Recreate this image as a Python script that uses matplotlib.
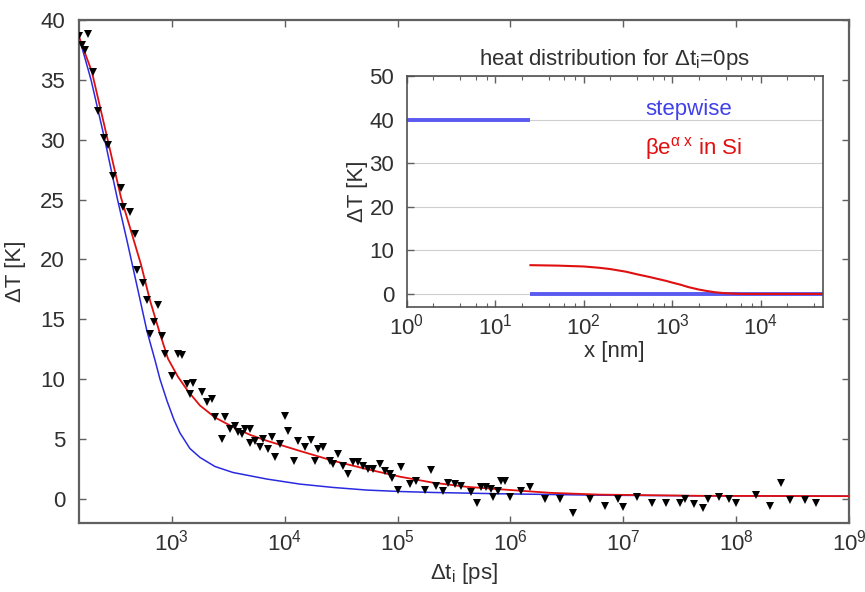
import matplotlib
matplotlib.use('Agg')
import matplotlib.pyplot as plt
from matplotlib.ticker import FixedLocator, NullLocator, LogLocator, NullFormatter

plt.rcParams['font.family'] = ['Liberation Sans', 'DejaVu Sans']
plt.rcParams['mathtext.fontset'] = 'custom'
plt.rcParams['mathtext.rm'] = 'Liberation Sans'
plt.rcParams['mathtext.it'] = 'Liberation Sans:italic'
plt.rcParams['mathtext.bf'] = 'Liberation Sans:bold'

# ---------------- main data ----------------
meas_t = [150, 182, 158, 169, 201, 222, 251, 273, 302, 351,
          371, 425, 470, 486, 549, 597, 757, 693, 638, 820, 866, 1137, 1218, 994,
          1349, 1545, 1443, 1833, 2248,
          2027, 2404, 2944, 2754, 3265, 3614, 3866, 4142, 4433, 4910, 4910, 5433,
          6012, 6434, 7129, 7638, 8166, 9054, 10020, 10710, 12110, 13140,
          15070, 17020, 18490, 19770, 21880, 25080, 26850, 29730, 32900, 36410,
          40330, 44660, 49430, 54790, 60660, 69510, 77090, 85310, 88310,
          1.082e5, 1.01e5, 1.282e5, 1.469e5, 1.741e5, 1.995e5, 2.209e5,
          2.53e5, 2.8e5, 3.21e5, 3.68e5, 4.51e5, 5.0e5, 5.53e5, 6.12e5, 6.78e5,
          7.0e5, 7.76e5, 8.3e5, 8.9e5, 9.86e5, 1.25e6, 1.48e6, 2.01e6, 2.73e6,
          3.58e6, 5.04e6,
          6.84e6, 8.97e6, 9.93e6, 1.31e7, 1.81e7, 2.41e7, 3.16e7, 3.5e7, 4.2e7,
          5.09e7, 5.63e7, 7.04e7, 8.64e7, 1.0e8, 1.51e8, 2.01e8, 2.51e8, 3.02e8,
          4.04e8, 5.06e8]
meas_dT = [38.66, 38.8, 37.9, 37.5, 35.7, 32.4, 30.15, 29.6, 27.0, 26.0,
           24.4, 24.0, 22.15, 19.1, 18.0, 16.6, 16.2, 14.75, 13.8, 13.6, 12.1, 12.1, 12.05, 10.3,
           9.6, 9.65, 8.75, 8.9, 8.3,
           8.06, 6.8, 6.8, 5.0, 5.83, 6.1, 5.55, 5.41, 5.83, 5.83, 4.7, 4.85,
           4.3, 5.0, 4.16, 5.13, 3.46, 4.58, 6.95, 5.63, 3.18, 4.85,
           4.3, 4.9, 3.18, 4.16, 4.3, 3.18, 2.9, 3.74, 2.76, 2.07,
           3.04, 3.04, 2.76, 2.48, 2.48, 2.9, 2.34, 2.07, 1.78,
           2.62, 0.73, 1.23, 1.45, 0.73, 2.4, 1.09,
           0.67, 1.36, 1.23, 1.09, 0.53, -0.31, 0.95, 1.0, 0.81,
           0.11, 0.67, 1.5, 1.5, 0.11, 0.67, 0.95, -0.03, -0.03,
           -1.15, 0.0,
           -0.59, 0.0, -0.67, 0.17, -0.31, -0.31, -0.39, 0.0, -0.45,
           -0.78, 0.0, 0.11, 0.0, -0.39, 0.33, -0.59, 1.28, -0.11,
           -0.11, -0.39]

fit_t = [150, 195, 271, 353, 433, 531, 638, 783, 923, 1130, 1386, 1770, 2404,
         3470, 4910, 6940, 13600, 26700, 53300, 1.045e5, 2.05e5, 4.1e5, 8.0e5,
         2.23e6, 6.2e6, 4.75e7, 1e9]
fit_dT = [38.6, 35.7, 29.9, 25.2, 22.4, 19.6, 16.6, 13.8, 11.7, 10.2, 9.0, 7.8, 6.8,
          6.0, 5.35, 4.85, 4.0, 3.18, 2.48, 1.85, 1.35, 1.0, 0.8,
          0.5, 0.35, 0.25, 0.22]

step_t = [150, 192, 250, 326, 399, 490, 601, 707, 783, 903, 1042, 1178, 1443,
          1770, 2404, 3470, 6940, 13600, 26700, 53300, 1.045e5, 2.05e5, 8e5,
          6.2e6, 4.75e7, 1e9]
step_dT = [38.6, 35.0, 30.3, 25.2, 21.6, 17.8, 14.0, 11.6, 10.0, 8.2, 6.6, 5.5, 4.2,
           3.46, 2.7, 2.2, 1.65, 1.23, 0.95, 0.73, 0.61, 0.53, 0.42,
           0.3, 0.25, 0.22]

x_ticks = [1e3, 1e4, 1e5, 1e6, 1e7, 1e8, 1e9]
y_ticks = [0, 5, 10, 15, 20, 25, 30, 35, 40]

# ---------------- inset data ----------------
in_step_hi_x = [1, 25]
in_step_hi_y = [40, 40]
in_step_lo_x = [25, 5e4]
in_step_lo_y = [0, 0]
in_exp_x = [25, 50, 100, 150, 200, 300, 400, 550, 700, 850, 1000, 1250, 1500,
            2000, 2500, 3000, 4000, 6000, 5e4]
in_exp_y = [6.6, 6.5, 6.3, 6.0, 5.7, 5.1, 4.5, 3.9, 3.4, 3.0, 2.6, 2.1, 1.6,
            1.0, 0.65, 0.4, 0.15, 0.0, 0.0]
in_x_ticks = [1, 10, 100, 1000, 10000]
in_y_ticks = [0, 10, 20, 30, 40, 50]

RED = '#e01010'
BLUE = '#2a2ae0'
SPINE = '#606060'
TXT = '#303030'
FS = 16

fig = plt.figure(figsize=(8.65, 5.92), dpi=100)
ax = fig.add_axes([0.0913, 0.117, 0.8902, 0.849])

ax.plot(step_t, step_dT, color=BLUE, lw=1.1, zorder=2)
ax.plot(fit_t, fit_dT, color=RED, lw=1.3, zorder=3)
ax.plot(meas_t, meas_dT, linestyle='none', marker='v', markersize=5.5,
        color='black', markeredgewidth=0, zorder=4)

ax.set_xscale('log')
ax.set_xlim(150, 1e9)
ax.set_ylim(-2, 40)
ax.xaxis.set_major_locator(FixedLocator(x_ticks))
ax.xaxis.set_minor_locator(NullLocator())
ax.set_yticks(y_ticks)
ax.tick_params(direction='in', top=True, right=True, length=5, width=1,
               color=SPINE, labelcolor=TXT, labelsize=FS)
ax.tick_params(axis='x', pad=5)
ax.tick_params(axis='y', pad=10)
for s in ax.spines.values():
    s.set_color(SPINE)
    s.set_linewidth(1.6)
ax.set_xlabel('Δt$_\\mathrm{i}$ [ps]', fontsize=FS, color=TXT, labelpad=4)
ax.set_ylabel('ΔT [K]', fontsize=FS, color=TXT, labelpad=10)

# ---------------- inset ----------------
ins = fig.add_axes([0.4702, 0.4814, 0.4809, 0.3902])
ins.set_xscale('log')
ins.set_xlim(1, 5e4)
ins.set_ylim(-3, 50)
ins.grid(axis='y', color='#cfcfcf', lw=0.8)
ins.set_axisbelow(True)
ins.plot(in_step_hi_x, in_step_hi_y, color='#5a5af0', lw=2.8, solid_capstyle='butt')
ins.plot(in_step_lo_x, in_step_lo_y, color='#5a5af0', lw=2.8, solid_capstyle='butt')
ins.plot(in_exp_x, in_exp_y, color=RED, lw=1.5)
ins.xaxis.set_major_locator(FixedLocator(in_x_ticks))
ins.xaxis.set_minor_locator(LogLocator(base=10, subs=[2, 4, 6, 8], numticks=20))
ins.xaxis.set_minor_formatter(NullFormatter())
ins.set_yticks(in_y_ticks)
ins.tick_params(direction='in', top=True, right=False, length=5, width=1,
                color=SPINE, labelcolor=TXT, labelsize=FS)
ins.tick_params(which='minor', direction='in', top=True, length=3, width=0.8, color=SPINE)
ins.tick_params(axis='x', pad=5)
ins.tick_params(axis='y', pad=9)
for s in ins.spines.values():
    s.set_color('#505050')
    s.set_linewidth(1.2)
ins.set_title('heat distribution for Δt$_\\mathrm{i}$=0ps', fontsize=FS, color=TXT, pad=8)
ins.set_xlabel('x [nm]', fontsize=FS, color=TXT, labelpad=1)
ins.set_ylabel('ΔT [K]', fontsize=FS, color=TXT, labelpad=1)
ins.text(0.573, 0.855, 'stepwise', transform=ins.transAxes, color='#4040e8', fontsize=FS,
         ha='left', va='center')
ins.text(0.573, 0.685, 'βe$^{\\mathrm{α\\ x}}$ in Si', transform=ins.transAxes, color=RED,
         fontsize=FS, ha='left', va='center')

fig.savefig('out.png', dpi=100, facecolor='white')
